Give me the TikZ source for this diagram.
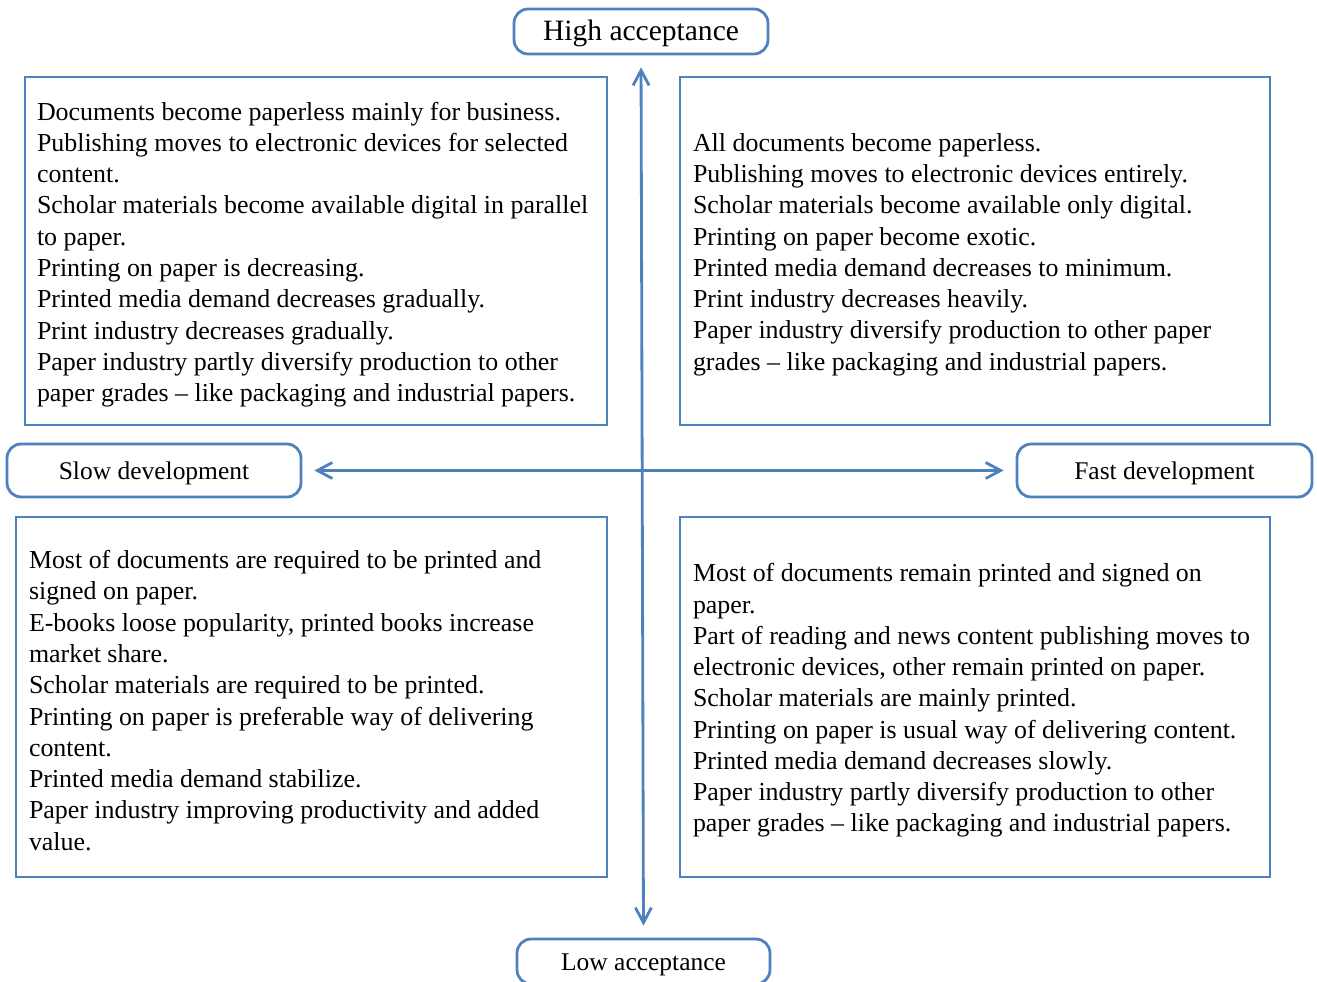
\documentclass[tikz,border=0pt]{standalone}
\usepackage{fontspec}
\setmainfont{Liberation Serif}
\usetikzlibrary{arrows.meta}

\definecolor{axisblue}{RGB}{79,129,189}

\tikzstyle{label}=[draw=axisblue,line width=1.6pt,rounded corners=8pt,fill=white,inner sep=0pt,text height=1.2em,text depth=0.12em]
\tikzstyle{scenario}=[draw=axisblue,line width=1.6pt,inner sep=0pt]
\tikzstyle{scenariotext}=[inner sep=0pt,anchor=west,align=left,yshift=-0.07cm,font=\fontsize{14.75}{17.8}\selectfont]
\tikzstyle{axis}=[draw=axisblue,line width=1.6pt,{Straight Barb[length=0.3cm,width=0.32cm]}-{Straight Barb[length=0.3cm,width=0.32cm]},shorten >=0.24cm,shorten <=0.24cm]

\begin{document}
\begin{tikzpicture}[x=0.02cm,y=-0.02cm]
\useasboundingbox (0,0) rectangle (1317,982);

% axis labels
\node[label,minimum width=5.08cm,minimum height=0.9cm,font=\fontsize{16.8}{20}\selectfont] (high) at (641,31.5) {High acceptance};
\node[label,minimum width=5.06cm,minimum height=0.9cm,font=\fontsize{14.5}{18}\selectfont] (low) at (643.5,961.5) {Low acceptance};
\node[label,minimum width=5.88cm,minimum height=1.06cm,font=\fontsize{14.5}{18}\selectfont] (slow) at (154,470.5) {Slow development};
\node[label,minimum width=5.9cm,minimum height=1.06cm,font=\fontsize{14.5}{18}\selectfont] (fast) at (1164.5,470.5) {Fast development};

% axes
\draw[axis] (high.south) -- (low.north);
\draw[axis] (slow.east) -- (fast.west);

% high acceptance, slow development
\node[scenario,minimum width=11.64cm,minimum height=6.96cm] (high-slow) at (316,251) {};
\node[scenariotext,xshift=0.26cm] (high-slow-text) at (high-slow.west) {%
Documents become paperless mainly for business.\\
Publishing moves to electronic devices for selected\\
content.\\
Scholar materials become available digital in parallel\\
to paper.\\
Printing on paper is decreasing.\\
Printed media demand decreases gradually.\\
Print industry decreases gradually.\\
Paper industry partly diversify production to other\\
paper grades -- like packaging and industrial papers.};

% high acceptance, fast development
\node[scenario,minimum width=11.8cm,minimum height=6.96cm] (high-fast) at (975,251) {};
\node[scenariotext,xshift=0.28cm] (high-fast-text) at (high-fast.west) {%
All documents become paperless.\\
Publishing moves to electronic devices entirely.\\
Scholar materials become available only digital.\\
Printing on paper become exotic.\\
Printed media demand decreases to minimum.\\
Print industry decreases heavily.\\
Paper industry diversify production to other paper\\
grades -- like packaging and industrial papers.};

% low acceptance, slow development
\node[scenario,minimum width=11.82cm,minimum height=7.2cm] (low-slow) at (311.5,697) {};
\node[scenariotext,xshift=0.28cm] (low-slow-text) at (low-slow.west) {%
Most of documents are required to be printed and\\
signed on paper.\\
E-books loose popularity, printed books increase\\
market share.\\
Scholar materials are required to be printed.\\
Printing on paper is preferable way of delivering\\
content.\\
Printed media demand stabilize.\\
Paper industry improving productivity and added\\
value.};

% low acceptance, fast development
\node[scenario,minimum width=11.8cm,minimum height=7.2cm] (low-fast) at (975,697) {};
\node[scenariotext,xshift=0.28cm] (low-fast-text) at (low-fast.west) {%
Most of documents remain printed and signed on\\
paper.\\
Part of reading and news content publishing moves to\\
electronic devices, other remain printed on paper.\\
Scholar materials are mainly printed.\\
Printing on paper is usual way of delivering content.\\
Printed media demand decreases slowly.\\
Paper industry partly diversify production to other\\
paper grades -- like packaging and industrial papers.};

\end{tikzpicture}
\end{document}
